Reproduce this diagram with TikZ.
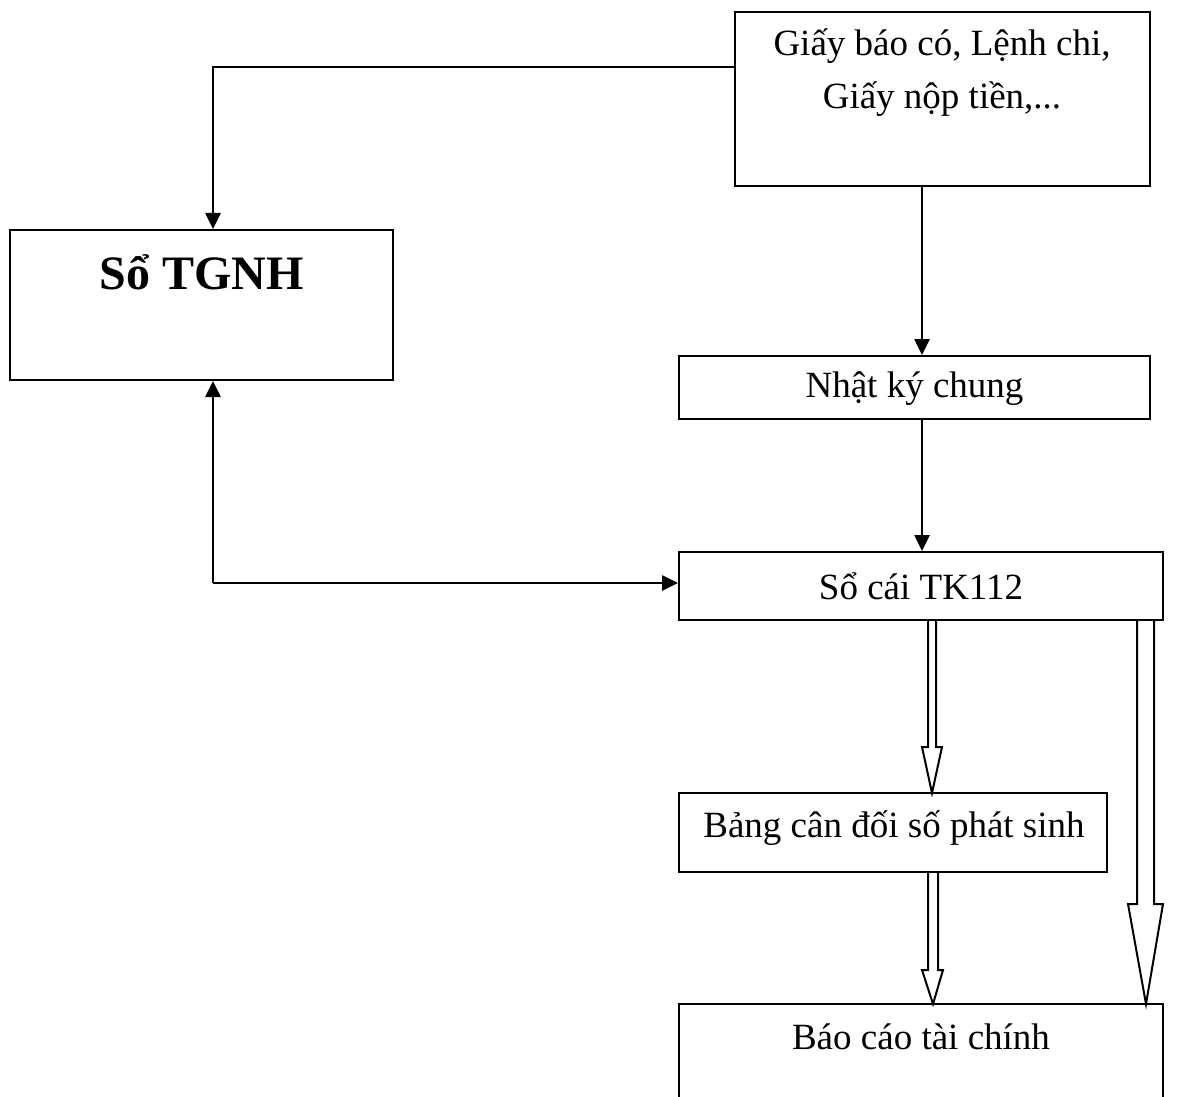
\documentclass[tikz,border=0pt]{standalone}
\usepackage{fontspec}
\setmainfont{Liberation Serif}
\usetikzlibrary{arrows.meta}
\begin{document}
\begin{tikzpicture}[x=1pt,y=-1pt,
  box/.style={draw,line width=2pt,inner sep=0pt},
  lbl/.style={font=\fontsize{37}{53}\selectfont,align=center,inner sep=0pt},
  arr/.style={line width=2.6pt,-{Triangle[length=16pt,width=15pt]}},
  hollow/.style={draw,line width=2pt,line join=miter}]
\useasboundingbox (0,0) rectangle (1195,1097);
% boxes
\node (top) [box,minimum width=415pt,minimum height=174pt] at (942.5,99) {};
\node (toptxt) [lbl] at (942,73) {Giấy báo có, Lệnh chi,\\Giấy nộp tiền,...};
\node (tgnh) [box,minimum width=383pt,minimum height=150pt] at (201.5,305) {};
\node (tgnhtxt) [lbl,font=\fontsize{48}{56}\selectfont\bfseries] at (201.5,272) {Sổ TGNH};
\node (nkc) [box,minimum width=471pt,minimum height=63pt] at (914.5,387.5) {};
\node (nkctxt) [lbl] at (914.5,389) {Nhật ký chung};
\node (sc) [box,minimum width=484pt,minimum height=68pt] at (921,586) {};
\node (sctxt) [lbl] at (921,586) {Sổ cái TK112};
\node (bcd) [box,minimum width=428pt,minimum height=79pt] at (893,832.5) {};
\node (bcdtxt) [lbl] at (894,828) {Bảng cân đối số phát sinh};
\node (bctc) [box,minimum width=484pt,minimum height=160pt] at (921,1084) {};
\node (bctctxt) [lbl] at (921,1037) {Báo cáo tài chính};
% connectors
\coordinate (c1) at (213,67);
\coordinate (c2) at (213,583);
\coordinate (vx) at (922,0);
\draw[arr] (c1 -| top.west) -- (c1) -- (c1 |- tgnh.north);
\draw[arr] (top.south -| vx) -- (nkc.north -| vx);
\draw[arr] (nkc.south -| vx) -- (sc.north -| vx);
\draw[arr] (c2) -- (c2 |- tgnh.south);
\draw[arr] (c2) -- (c2 -| sc.west);
% hollow arrows
\draw[hollow] (928,620) -- (928,747) -- (922,747) -- (932,793) -- (942,747) -- (936,747) -- (936,620);
\draw[hollow] (928,872) -- (928,970) -- (922,970) -- (933,1004) -- (943,970) -- (938,970) -- (938,872);
\draw[hollow] (1137,620) -- (1137,904) -- (1128,904) -- (1146,1004) -- (1163,904) -- (1154,904) -- (1154,620);
\end{tikzpicture}
\end{document}
